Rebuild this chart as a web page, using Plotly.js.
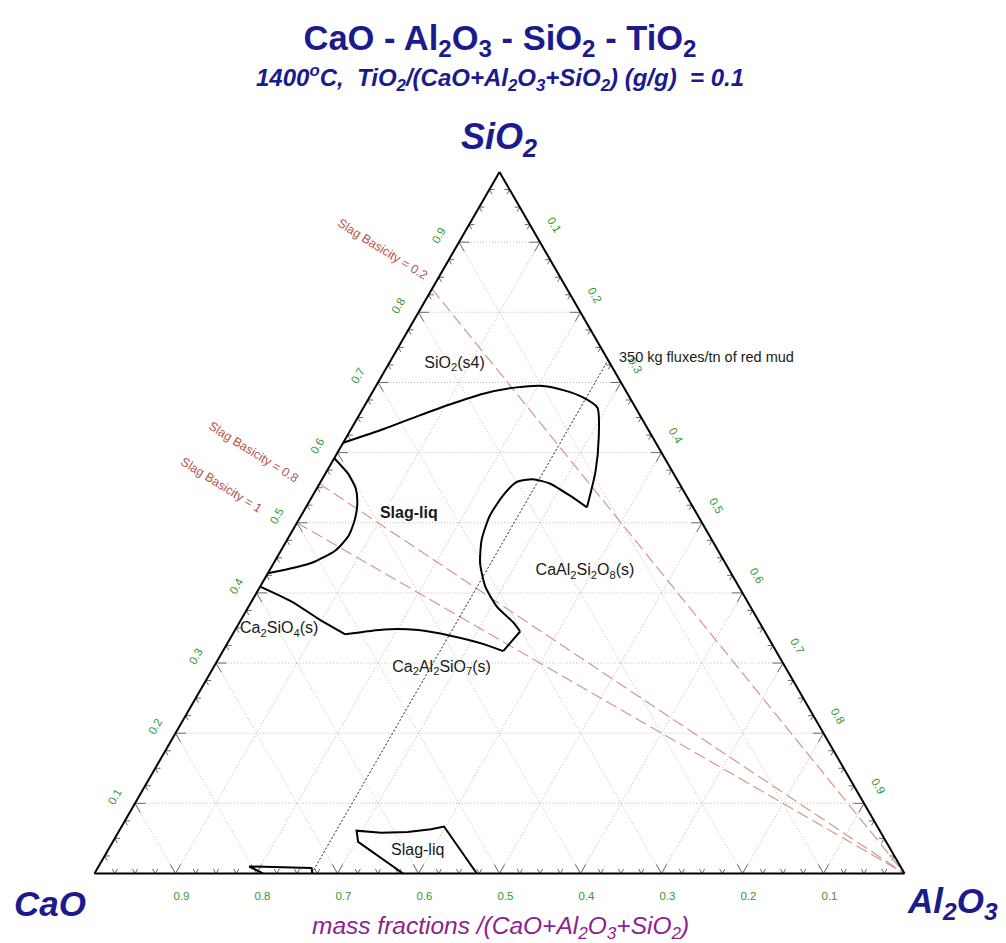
<!DOCTYPE html>
<html>
<head>
<meta charset="utf-8">
<script src="https://cdn.plot.ly/plotly-3.0.1.min.js"></script>
<style>
  html, body { margin: 0; padding: 0; background: #ffffff; }
  #chart { width: 1006px; height: 943px; }
</style>
</head>
<body>
<div id="chart"></div>
<script>
// Isothermal section at 1400 °C, mass fractions normalised to CaO+Al2O3+SiO2.
// Ternary components: a = SiO2 (top), b = CaO (left), c = Al2O3 (right).

// Liquid boundary running from the SiO2(s4) field round the anorthite notch
// and back along the Ca2Al2SiO7 / Ca2SiO4 fields to the CaO-SiO2 edge.
const liqBoundarySiO2 = [0.614, 0.634, 0.652, 0.669, 0.684, 0.693, 0.695, 0.688, 0.679, 0.664, 0.621, 0.573, 0.522,
                         0.539, 0.556, 0.562, 0.558, 0.539, 0.510, 0.476, 0.443, 0.409, 0.380, 0.358, 0.345,
                         0.317, 0.327, 0.339, 0.347, 0.348, 0.341, 0.363, 0.387, 0.409];
const liqBoundaryCaO  = [0.386, 0.325, 0.275, 0.226, 0.178, 0.132, 0.099, 0.074, 0.058, 0.047, 0.067, 0.095, 0.131,
                         0.144, 0.160, 0.178, 0.200, 0.226, 0.257, 0.284, 0.303, 0.313, 0.313, 0.304, 0.302,
                         0.337, 0.356, 0.391, 0.427, 0.468, 0.520, 0.542, 0.562, 0.591];
const liqBoundaryAl2O3 = [0.000, 0.041, 0.073, 0.105, 0.138, 0.175, 0.206, 0.238, 0.263, 0.289, 0.312, 0.332, 0.347,
                          0.317, 0.284, 0.260, 0.242, 0.235, 0.233, 0.240, 0.255, 0.278, 0.307, 0.338, 0.353,
                          0.346, 0.317, 0.270, 0.226, 0.184, 0.139, 0.095, 0.051, 0.000];
// indices where the boundary has a sharp corner (smooth pieces are split there)
const liqBoundaryCorners = [12, 24, 25, 30];

// Small lobe on the CaO-SiO2 side
const lobeSiO2  = [0.592, 0.570, 0.549, 0.529, 0.505, 0.481, 0.460, 0.443, 0.433, 0.428];
const lobeCaO   = [0.408, 0.402, 0.403, 0.411, 0.426, 0.446, 0.473, 0.510, 0.548, 0.572];
const lobeAl2O3 = [0.000, 0.028, 0.048, 0.060, 0.069, 0.073, 0.067, 0.047, 0.019, 0.000];

// Second liquid pocket near the CaO-Al2O3 edge
const lowLiqSiO2  = [0.000, 0.045, 0.061, 0.058, 0.059, 0.063, 0.067, 0.000];
const lowLiqCaO   = [0.619, 0.652, 0.646, 0.617, 0.584, 0.553, 0.535, 0.528];
const lowLiqAl2O3 = [0.381, 0.303, 0.293, 0.325, 0.357, 0.384, 0.398, 0.472];

// Thin field on the CaO-Al2O3 edge
const edgeFieldSiO2  = [0.000, 0.010, 0.008, 0.000];
const edgeFieldCaO   = [0.792, 0.804, 0.728, 0.731];
const edgeFieldAl2O3 = [0.208, 0.186, 0.264, 0.269];

// Composition line for 350 kg fluxes per tonne of red mud
const fluxLineSiO2  = [0.000, 0.732];
const fluxLineCaO   = [0.732, 0.000];
const fluxLineAl2O3 = [0.268, 0.268];

// Slag basicity CaO/SiO2 lines (drawn from the Al2O3 corner)
const basicities = [0.2, 0.8, 1];

// Phase field labels
const fieldNames = ['SiO<sub>2</sub>(s4)', '<b>Slag-liq</b>', 'CaAl<sub>2</sub>Si<sub>2</sub>O<sub>8</sub>(s)',
                    'Ca<sub>2</sub>SiO<sub>4</sub>(s)', 'Ca<sub>2</sub>Al<sub>2</sub>SiO<sub>7</sub>(s)', 'Slag-liq'];
const fieldSiO2  = [0.727, 0.512, 0.431, 0.348, 0.293, 0.032];
const fieldCaO   = [0.192, 0.356, 0.179, 0.598, 0.425, 0.585];
const fieldAl2O3 = [0.081, 0.132, 0.390, 0.054, 0.282, 0.383];

// Axis ticks
const tickValues = [0.1, 0.2, 0.3, 0.4, 0.5, 0.6, 0.7, 0.8, 0.9];
const tickLabels = ['0.1', '0.2', '0.3', '0.4', '0.5', '0.6', '0.7', '0.8', '0.9'];

const NAVY = '#1b1b8e';
const SANS = 'Liberation Sans, Arial, Helvetica, sans-serif';

const boundaryLine = { color: '#000000', width: 2, shape: 'spline', smoothing: 0.6 };

function boundaryTrace(a, b, c) {
  return {
    type: 'scatterternary', mode: 'lines', a: a, b: b, c: c,
    line: boundaryLine, hoverinfo: 'skip', showlegend: false
  };
}

// split a boundary at its corners so that each smooth piece is splined separately
function splitAtCorners(a, b, c, corners) {
  const cuts = [0].concat(corners, [a.length - 1]);
  const pieces = [];
  for (let i = 0; i < cuts.length - 1; i++) {
    const s = cuts[i], e = cuts[i + 1] + 1;
    pieces.push(boundaryTrace(a.slice(s, e), b.slice(s, e), c.slice(s, e)));
  }
  return pieces;
}

// V-shaped edge ticks every 0.025, longer at every 0.1
function edgeTickTrace() {
  const tA = [], tB = [], tC = [];
  const seg = (p, q) => { tA.push(p[0], q[0], null); tB.push(p[1], q[1], null); tC.push(p[2], q[2], null); };
  const step = 0.025, majorLen = 0.013, minorLen = 0.0065;
  for (let k = 1; k < 40; k++) {
    const t = k * step;
    const L = (k % 4 === 0) ? majorLen : minorLen;
    let p = [0, t, 1 - t];                       // CaO-Al2O3 edge
    seg(p, [L, t, 1 - t - L]); seg(p, [L, t - L, 1 - t]);
    p = [t, 1 - t, 0];                           // CaO-SiO2 edge
    seg(p, [t, 1 - t - L, L]); seg(p, [t - L, 1 - t, L]);
    p = [t, 0, 1 - t];                           // SiO2-Al2O3 edge
    seg(p, [t, L, 1 - t - L]); seg(p, [t - L, L, 1 - t]);
  }
  return {
    type: 'scatterternary', mode: 'lines', a: tA, b: tB, c: tC,
    line: { color: '#6a6a6a', width: 1 }, connectgaps: false,
    hoverinfo: 'skip', showlegend: false
  };
}

const traces = [];
traces.push(edgeTickTrace());

// basicity lines
basicities.forEach(B => {
  traces.push({
    type: 'scatterternary', mode: 'lines',
    a: [1 / (1 + B), 0], b: [B / (1 + B), 0], c: [0, 1],
    line: { color: 'rgb(214,150,135)', width: 1.2, dash: '12px,5px' },
    hoverinfo: 'skip', showlegend: false
  });
});

// flux line
traces.push({
  type: 'scatterternary', mode: 'lines',
  a: fluxLineSiO2, b: fluxLineCaO, c: fluxLineAl2O3,
  line: { color: '#222222', width: 1, dash: '2px,2px' },
  hoverinfo: 'skip', showlegend: false
});

// phase boundaries
splitAtCorners(liqBoundarySiO2, liqBoundaryCaO, liqBoundaryAl2O3, liqBoundaryCorners).forEach(t => traces.push(t));
traces.push(boundaryTrace(lobeSiO2, lobeCaO, lobeAl2O3));
traces.push(Object.assign(boundaryTrace(lowLiqSiO2, lowLiqCaO, lowLiqAl2O3), { line: { color: '#000', width: 2 } }));
traces.push(Object.assign(boundaryTrace(edgeFieldSiO2, edgeFieldCaO, edgeFieldAl2O3), { line: { color: '#000', width: 2 } }));

// field labels
traces.push({
  type: 'scatterternary', mode: 'text',
  a: fieldSiO2, b: fieldCaO, c: fieldAl2O3, text: fieldNames,
  textposition: 'middle center',
  textfont: { family: SANS, size: 16, color: '#1a1a1a' },
  hoverinfo: 'skip', showlegend: false
});

function axisStyle(angle) {
  return {
    tickmode: 'array', tickvals: tickValues, ticktext: tickLabels,
    ticks: 'outside', ticklen: 12, tickcolor: 'rgba(0,0,0,0)',
    tickangle: angle,
    tickfont: { family: SANS, size: 11.5, color: '#2f9a2f' },
    showline: true, linecolor: '#000000', linewidth: 2,
    showgrid: true, gridcolor: '#bdbdbd', gridwidth: 1, griddash: '1px,2px',
    title: { text: '' }
  };
}

const W = 1006, H = 943;
const px = x => x / W;
const py = y => 1 - y / H;

// triangle: side 810 px, base at y = 873.5, centred at x = 499.5
const side = 810, cx = 499.5, baseY = 873.5;
const triH = side * Math.sqrt(3) / 2;

const basicityLabelPos = [[382, 249], [253, 452], [221, 485]];

const annotations = [
  { text: '<b><i>1400<sup>o</sup>C,  TiO<sub>2</sub>/(CaO+Al<sub>2</sub>O<sub>3</sub>+SiO<sub>2</sub>) (g/g)  = 0.1</i></b>',
    x: px(500), y: py(78), font: { family: SANS, size: 24, color: NAVY } },
  { text: '<b><i>SiO<sub>2</sub></i></b>', x: px(499), y: py(139), font: { family: SANS, size: 36, color: NAVY } },
  { text: '<b><i>CaO</i></b>', x: px(50), y: py(903), font: { family: SANS, size: 35, color: NAVY } },
  { text: '<b><i>Al<sub>2</sub>O<sub>3</sub></i></b>', x: px(952), y: py(903), font: { family: SANS, size: 35, color: NAVY } },
  { text: '<i>mass fractions /(CaO+Al<sub>2</sub>O<sub>3</sub>+SiO<sub>2</sub>)</i>', x: px(500), y: py(927),
    font: { family: SANS, size: 24.5, color: '#8c228e' } },
  { text: '350 kg fluxes/tn of red mud', x: px(617), y: py(357), xanchor: 'left',
    font: { family: SANS, size: 14.5, color: '#1a1a1a' } }
];
basicities.forEach((B, i) => {
  annotations.push({
    text: 'Slag Basicity = ' + B, x: px(basicityLabelPos[i][0]), y: py(basicityLabelPos[i][1]),
    textangle: 32, font: { family: SANS, size: 12.5, color: '#b9524a' }
  });
});
annotations.forEach(an => {
  an.xref = 'paper'; an.yref = 'paper'; an.showarrow = false;
  if (!an.xanchor) an.xanchor = 'center';
  an.yanchor = 'middle';
});

const layout = {
  width: W, height: H,
  margin: { l: 0, r: 0, t: 0, b: 0 },
  paper_bgcolor: '#ffffff',
  showlegend: false,
  hovermode: false,
  title: {
    text: '<b>CaO - Al<sub>2</sub>O<sub>3</sub> - SiO<sub>2</sub> - TiO<sub>2</sub></b>',
    x: px(500), xanchor: 'center', y: py(38), yanchor: 'middle',
    font: { family: SANS, size: 34.5, color: NAVY }
  },
  ternary: {
    sum: 1,
    bgcolor: '#ffffff',
    domain: {
      x: [px(cx - side / 2), px(cx + side / 2)],
      y: [(H - baseY - 1) / H, (H - baseY + triH + 1) / H]
    },
    aaxis: axisStyle(-60),
    baxis: axisStyle(0),
    caxis: axisStyle(60)
  },
  annotations: annotations
};

Plotly.newPlot('chart', traces, layout, { displayModeBar: false, staticPlot: true });
</script>
</body>
</html>
